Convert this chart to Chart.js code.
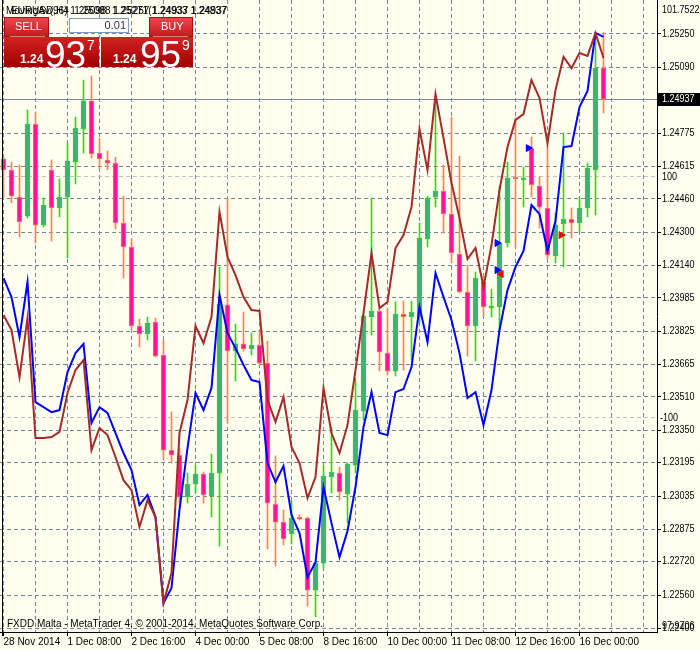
<!DOCTYPE html>
<html>
<head>
<meta charset="utf-8">
<script src="https://cdn.jsdelivr.net/npm/chart.js@4.4.0/dist/chart.umd.min.js"></script>
<style>
  html, body { margin: 0; padding: 0; background: #FFFFF0; }
  canvas { display: block; }
</style>
</head>
<body>
<canvas id="chart" width="700" height="650"></canvas>
<script>
// EURUSD H4 candles, one per bar
const timeLabels = ['28 Nov 2014', '1 Dec 08:00', '2 Dec 16:00', '4 Dec 00:00', '5 Dec 08:00',
  '8 Dec 16:00', '10 Dec 00:00', '11 Dec 08:00', '12 Dec 16:00', '16 Dec 00:00']

const opens = [1.24651, 1.24598, 1.24468, 1.24377, 1.24818, 1.24334, 1.24598, 1.24416, 1.24468, 1.24636,
  1.24794, 1.24929, 1.24679, 1.24646, 1.24631, 1.24344, 1.24229, 1.23850, 1.23812, 1.23869,
  1.23711, 1.23255, 1.23231, 1.23030, 1.23092, 1.23140, 1.23035, 1.23145, 1.23951, 1.23730,
  1.23764, 1.23740, 1.23759, 1.23672, 1.22996, 1.22910, 1.22853, 1.22934, 1.22929, 1.22584,
  1.22713, 1.23126, 1.23145, 1.23044, 1.23183, 1.23442, 1.23893, 1.23922, 1.23720, 1.23634,
  1.23907, 1.23893, 1.23893, 1.24267, 1.24468, 1.24497, 1.24387, 1.24195, 1.24013, 1.23850,
  1.24061, 1.23936, 1.23941, 1.24248, 1.24564, 1.24550, 1.24703, 1.24521, 1.24416, 1.24186,
  1.24339, 1.24363, 1.24344, 1.24416, 1.24598, 1.25088]
const highs = [1.24660, 1.24636, 1.24622, 1.24886, 1.24876, 1.24464, 1.24646, 1.24555, 1.24727, 1.24852,
  1.25029, 1.25049, 1.24751, 1.24689, 1.24660, 1.24473, 1.24267, 1.23883, 1.23893, 1.23888,
  1.23783, 1.23438, 1.23265, 1.23145, 1.23183, 1.23150, 1.23236, 1.24133, 1.24464, 1.23859,
  1.23917, 1.23816, 1.23831, 1.23778, 1.23227, 1.22968, 1.23016, 1.22944, 1.22934, 1.22718,
  1.23183, 1.23366, 1.23174, 1.23193, 1.23591, 1.23912, 1.24464, 1.23927, 1.23936, 1.23965,
  1.23970, 1.23970, 1.24344, 1.24473, 1.24934, 1.24622, 1.24852, 1.24665, 1.24142, 1.24109,
  1.24094, 1.24027, 1.24521, 1.24636, 1.24847, 1.24612, 1.24756, 1.24564, 1.24727, 1.24392,
  1.24775, 1.24416, 1.24468, 1.24631, 1.25255, 1.25257]
const lows = [1.24468, 1.24440, 1.24277, 1.24368, 1.24248, 1.24325, 1.24257, 1.24373, 1.24176, 1.24531,
  1.24679, 1.24655, 1.24603, 1.24598, 1.24315, 1.24080, 1.23826, 1.23749, 1.23783, 1.23701,
  1.23207, 1.23193, 1.23001, 1.23001, 1.23049, 1.23001, 1.22934, 1.22795, 1.23385, 1.23586,
  1.23730, 1.23711, 1.23658, 1.22781, 1.22699, 1.22800, 1.22805, 1.22920, 1.22507, 1.22455,
  1.22689, 1.23049, 1.23016, 1.22905, 1.23145, 1.23399, 1.23807, 1.23634, 1.23615, 1.23610,
  1.23639, 1.23687, 1.23864, 1.24229, 1.24420, 1.24296, 1.24152, 1.24008, 1.23706, 1.23682,
  1.23893, 1.23893, 1.23831, 1.24229, 1.24229, 1.24420, 1.24468, 1.24320, 1.24171, 1.24152,
  1.24133, 1.24272, 1.24301, 1.24373, 1.24382, 1.24871]
const closes = [1.24598, 1.24473, 1.24349, 1.24818, 1.24334, 1.24430, 1.24416, 1.24468, 1.24641, 1.24799,
  1.24929, 1.24675, 1.24651, 1.24631, 1.24344, 1.24229, 1.23850, 1.23812, 1.23864, 1.23706,
  1.23255, 1.23231, 1.23030, 1.23092, 1.23140, 1.23040, 1.23145, 1.23955, 1.23730, 1.23764,
  1.23740, 1.23759, 1.23672, 1.23001, 1.22910, 1.22829, 1.22929, 1.22924, 1.22584, 1.22713,
  1.23131, 1.23150, 1.23054, 1.23188, 1.23447, 1.23898, 1.23922, 1.23725, 1.23634, 1.23907,
  1.23893, 1.23917, 1.24272, 1.24464, 1.24497, 1.24387, 1.24200, 1.24013, 1.23850, 1.24080,
  1.23941, 1.23946, 1.24248, 1.24560, 1.24555, 1.24560, 1.24526, 1.24420, 1.24190, 1.24334,
  1.24363, 1.24344, 1.24416, 1.24607, 1.25087, 1.24937]

// indicator lines
const brownLine = [1.23903, 1.23831, 1.23605, 1.23888, 1.23313, 1.23313, 1.23318, 1.23342, 1.23529, 1.23639,
  1.23687, 1.23255, 1.23361, 1.23327, 1.23222, 1.23111, 1.23063, 1.22886, 1.23016, 1.22934,
  1.22522, 1.22666, 1.23337, 1.23495, 1.23850, 1.23768, 1.23893, 1.24397, 1.24181, 1.24094,
  1.23989, 1.23927, 1.23922, 1.23495, 1.23390, 1.23509, 1.23270, 1.23193, 1.23025, 1.23126,
  1.23553, 1.23337, 1.23241, 1.23375, 1.23639, 1.23912, 1.24200, 1.23936, 1.23965, 1.24224,
  1.24286, 1.24420, 1.24794, 1.24598, 1.24962, 1.24751, 1.24536, 1.24368, 1.24171, 1.24224,
  1.24037, 1.24238, 1.24502, 1.24708, 1.24838, 1.24866, 1.25029, 1.24943, 1.24727, 1.24981,
  1.25140, 1.25087, 1.25159, 1.25145, 1.25255, 1.25135]
const blueLine = [1.24080, 1.23989, 1.23797, 1.24061, 1.23485, 1.23461, 1.23437, 1.23447, 1.23629, 1.23720,
  1.23764, 1.23385, 1.23461, 1.23433, 1.23337, 1.23241, 1.23159, 1.22992, 1.23040, 1.22934,
  1.22522, 1.22594, 1.22968, 1.23265, 1.23529, 1.23447, 1.23553, 1.23999, 1.23816, 1.23744,
  1.23663, 1.23591, 1.23581, 1.23193, 1.23102, 1.23179, 1.22944, 1.22857, 1.22646, 1.22718,
  1.23078, 1.22905, 1.22742, 1.22867, 1.23078, 1.23366, 1.23533, 1.23337, 1.23327, 1.23533,
  1.23548, 1.23653, 1.23941, 1.23773, 1.24104, 1.23989, 1.23879, 1.23720, 1.23505, 1.23533,
  1.23375, 1.23543, 1.23831, 1.24022, 1.24133, 1.24210, 1.24430, 1.24387, 1.24210, 1.24353,
  1.24708, 1.24713, 1.24900, 1.24977, 1.25255, 1.25236]

// signal arrows (bar position, price)
const buyArrows = [{x: 61.7, y: 1.24248}, {x: 61.7, y: 1.24118}, {x: 65.6, y: 1.24703}]
const sellArrows = [{x: 62.2, y: 1.24099}, {x: 69.7, y: 1.24286}]
const sellArrowTurn = [-90, 90]

const priceTicks = [1.25250, 1.25090, 1.24935, 1.24775, 1.24615, 1.24460, 1.24300, 1.24140, 1.23985,
  1.23825, 1.23665, 1.23510, 1.23350, 1.23195, 1.23035, 1.22875, 1.22720, 1.22560, 1.22400]
const bidPrice = 1.24937
const levelPrices = [1.24569, 1.23414]
const levelTexts = ['100', '-100']

const FONT = '"Liberation Sans", Arial, sans-serif'
const isUp = i => closes[i] >= opens[i]

const bodies = opens.map((o, i) => ({x: i, y: [o, closes[i]]}))
const wicks = lows.map((l, i) => ({x: i, y: [l, highs[i]]}))
const slots = []
for (let v = 0; v <= 80; v += 4) slots.push(v)

function hline(ctx, area, y, color, dash) {
    ctx.save()
    ctx.strokeStyle = color
    ctx.lineWidth = 1
    ctx.setLineDash(dash)
    ctx.beginPath()
    ctx.moveTo(area.left, Math.round(y) + 0.5)
    ctx.lineTo(area.right, Math.round(y) + 0.5)
    ctx.stroke()
    ctx.restore()
}

// narrow text, closer to the terminal's Tahoma
function narrowText(ctx, text, x, y) {
    ctx.save()
    ctx.translate(x, y)
    ctx.scale(0.9, 1)
    ctx.fillText(text, 0, 0)
    ctx.restore()
}

function drawPanel(ctx) {
    ctx.save()
    const g1 = ctx.createLinearGradient(0, 17, 0, 37)
    g1.addColorStop(0, '#EC4A4E'); g1.addColorStop(1, '#C8161C')
    const g2 = ctx.createLinearGradient(0, 37, 0, 67)
    g2.addColorStop(0, '#D42222'); g2.addColorStop(1, '#A00000')
    ctx.fillStyle = g1
    ctx.fillRect(4, 17, 45, 20)
    ctx.fillRect(149, 17, 44, 20)
    ctx.fillStyle = g2
    ctx.fillRect(4, 37, 95, 30)
    ctx.fillRect(101, 37, 92, 30)
    ctx.strokeStyle = '#A81010'
    ctx.strokeRect(4.5, 17.5, 44, 19)
    ctx.strokeRect(149.5, 17.5, 43, 19)
    ctx.strokeStyle = 'rgba(255,200,200,0.6)'
    ctx.beginPath()
    ctx.moveTo(10, 36.5); ctx.lineTo(45, 36.5)
    ctx.moveTo(153, 36.5); ctx.lineTo(188, 36.5)
    ctx.stroke()
    // lot box
    ctx.fillStyle = '#FFFFFF'
    ctx.fillRect(69, 18, 60, 15)
    ctx.strokeStyle = '#7F9DB9'
    ctx.strokeRect(69.5, 18.5, 59, 14)
    ctx.textBaseline = 'middle'
    ctx.fillStyle = '#33334A'
    ctx.font = '11px ' + FONT
    ctx.textAlign = 'right'
    ctx.fillText('0.01', 126, 26)
    ctx.textAlign = 'left'
    ctx.fillStyle = '#FFFFFF'
    ctx.fillText('SELL', 15, 27)
    ctx.fillText('BUY', 161, 27)
    ctx.textBaseline = 'alphabetic'
    ctx.font = 'bold 12px ' + FONT
    ctx.fillText('1.24', 20, 63)
    ctx.fillText('1.24', 113, 63)
    ctx.font = '37px ' + FONT
    ctx.fillText('93', 45, 67)
    ctx.fillText('95', 140, 67)
    ctx.font = '14px ' + FONT
    ctx.fillText('7', 87, 50)
    ctx.fillText('9', 182, 50)
    ctx.restore()
}

const mtDecor = {
    id: 'mtDecor',
    beforeDraw(chart) {
        const ctx = chart.ctx
        ctx.save()
        ctx.fillStyle = '#FFFFF0'
        ctx.fillRect(0, 0, chart.width, chart.height)
        ctx.restore()
    },
    beforeDatasetsDraw(chart) {
        const ctx = chart.ctx, area = chart.chartArea, y = chart.scales.y
        levelPrices.forEach(p => hline(ctx, area, y.getPixelForValue(p), '#C0C0C0', [4, 3]))
        hline(ctx, area, y.getPixelForValue(bidPrice), '#778899', [])
    },
    afterDraw(chart) {
        const ctx = chart.ctx, area = chart.chartArea, y = chart.scales.y
        ctx.save()
        // frame
        ctx.strokeStyle = '#000'
        ctx.lineWidth = 1
        ctx.beginPath()
        ctx.moveTo(2.5, 0); ctx.lineTo(2.5, area.bottom + 4)
        ctx.moveTo(0, area.bottom + 0.5); ctx.lineTo(area.right, area.bottom + 0.5)
        ctx.moveTo(area.right + 0.5, 0); ctx.lineTo(area.right + 0.5, area.bottom + 1)
        ctx.stroke()
        // price labels
        ctx.font = '10px ' + FONT
        ctx.textBaseline = 'middle'
        ctx.textAlign = 'left'
        ctx.fillStyle = '#000'
        priceTicks.forEach(p => {
            if (Math.abs(p - bidPrice) < 0.0001) return
            narrowText(ctx, p.toFixed(5), 662, y.getPixelForValue(p))
        })
        levelPrices.forEach((p, i) => narrowText(ctx, levelTexts[i], levelTexts[i][0] === '-' ? 660 : 662, y.getPixelForValue(p) + 1))
        narrowText(ctx, '101.7522', 662, 10)
        narrowText(ctx, '97.9706', 662, 626)
        const by = Math.round(y.getPixelForValue(bidPrice))
        ctx.fillRect(658, by - 6, 42, 13)
        ctx.fillStyle = '#FFF'
        narrowText(ctx, bidPrice.toFixed(5), 662, by + 0.5)
        // header and footer
        ctx.fillStyle = '#000'
        ctx.fillText('MovingAv(96) 1.25098  1.25271(1.24933 1.24837', 6, 11)
        ctx.fillText('EURUSD,H4  1.25088 1.25257 1.24937 1.24937', 11, 11)
        ctx.fillText('FXDD Malta - MetaTrader 4, \u00A9 2001-2014, MetaQuotes Software Corp.', 7, 624)
        ctx.restore()
        drawPanel(ctx)
    }
}

const ctx = document.getElementById('chart').getContext('2d')
new Chart(ctx, {
    type: 'bar',
    data: {
        datasets: [
            {
                type: 'line', data: buyArrows, showLine: false, order: 0,
                pointStyle: 'triangle', pointRotation: 90, pointRadius: 4,
                pointBackgroundColor: '#0000FF', pointBorderColor: '#0000FF', pointBorderWidth: 1
            },
            {
                type: 'line', data: sellArrows, showLine: false, order: 0,
                pointStyle: 'triangle', pointRotation: sellArrowTurn, pointRadius: 4,
                pointBackgroundColor: '#FF0000', pointBorderColor: '#FF0000', pointBorderWidth: 1
            },
            {
                type: 'line', data: brownLine.map((v, i) => ({x: i, y: v})), order: 1,
                borderColor: '#A52A2A', borderWidth: 2, pointRadius: 0, tension: 0
            },
            {
                type: 'line', data: blueLine.map((v, i) => ({x: i, y: v})), order: 1,
                borderColor: '#0000FF', borderWidth: 2, pointRadius: 0, tension: 0
            },
            {
                type: 'bar', data: bodies, order: 2, grouped: false,
                barThickness: 5, borderWidth: 1, borderSkipped: false, minBarLength: 1,
                backgroundColor: c => isUp(c.dataIndex) ? '#3CB371' : '#FF1493',
                borderColor: c => isUp(c.dataIndex) ? '#22DD22' : '#F5845A'
            },
            {
                type: 'bar', data: wicks, order: 3, grouped: false,
                barThickness: 1, borderWidth: 0,
                backgroundColor: c => isUp(c.dataIndex) ? '#22DD22' : '#F5845A'
            }
        ]
    },
    options: {
        responsive: false,
        animation: false,
        devicePixelRatio: 1,
        layout: {padding: 0, autoPadding: false},
        plugins: {legend: {display: false}, tooltip: {enabled: false}},
        scales: {
            x: {
                type: 'linear', min: -0.4375, max: 81.6875, offset: false,
                afterBuildTicks: s => { s.ticks = slots.map(v => ({value: v})) },
                afterFit: s => { s.height = 18 },
                grid: {
                    offset: false, color: '#778899', lineWidth: 1, tickLength: 4,
                    tickColor: c => (c.tick && c.tick.value % 8 === 0 && c.tick.value / 8 < timeLabels.length) ? '#000' : 'rgba(0,0,0,0)'
                },
                border: {display: false, dash: [4, 3]},
                ticks: {
                    autoSkip: false, maxRotation: 0, minRotation: 0, align: 'start', padding: 0,
                    color: '#000', font: {family: FONT, size: 10},
                    callback: v => (v % 8 === 0 && timeLabels[v / 8]) ? timeLabels[v / 8] : ''
                }
            },
            y: {
                type: 'linear', position: 'right', min: 1.22383, max: 1.25413,
                afterBuildTicks: s => { s.ticks = priceTicks.map(v => ({value: v})) },
                afterFit: s => { s.width = 43 },
                grid: {color: '#778899', lineWidth: 1, tickLength: 4, tickColor: '#000'},
                border: {display: false, dash: [4, 3]},
                ticks: {display: false}
            }
        }
    },
    plugins: [mtDecor]
})
</script>
</body>
</html>
